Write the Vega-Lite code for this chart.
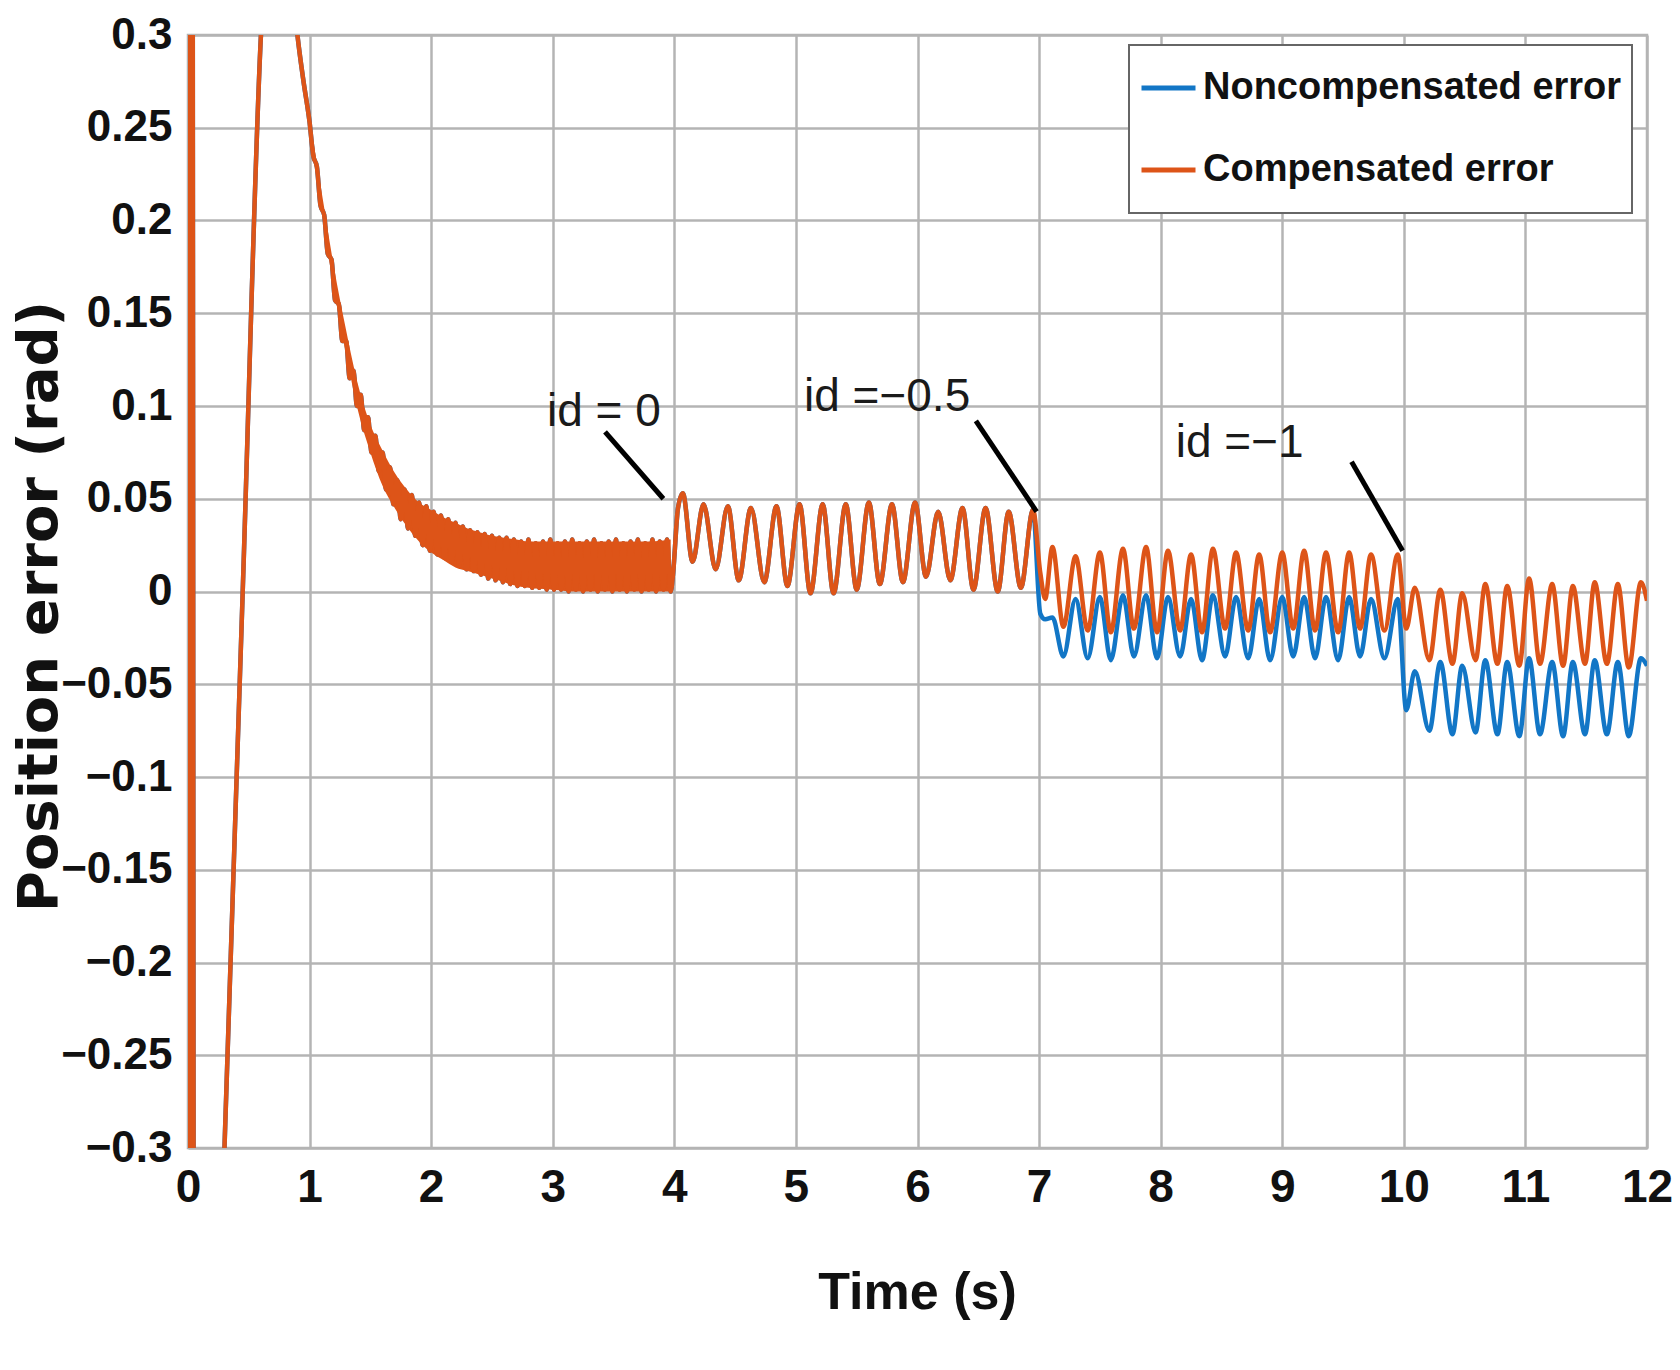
{
  "$schema": "https://vega.github.io/schema/vega-lite/v6.json",
  "autosize": {"type": "none"},
  "width": 1459,
  "height": 1113,
  "padding": {"left": 188, "top": 35, "right": 33, "bottom": 222},
  "background": "white",
  "config": {
    "view": {"stroke": "#b4b4b4", "strokeWidth": 2.5},
    "axis": {
      "grid": true, "gridColor": "#b4b4b4", "gridWidth": 2.5, "gridOpacity": 1,
      "domain": false, "ticks": false,
      "labelFont": "Liberation Sans, Arial, sans-serif",
      "labelFontSize": 46, "labelFontWeight": "bold", "labelColor": "#111111",
      "labelFlush": false, "labelOverlap": false, "labelBound": false,
      "titleColor": "#111111"
    },
    "legend": {
      "orient": "none", "legendX": 941, "legendY": 10,
      "padding": 10, "strokeColor": "#666666", "strokeWidth": 2, "fillColor": "white",
      "symbolType": "stroke", "symbolSize": 2916, "symbolStrokeWidth": 5,
      "labelFont": "Liberation Sans, Arial, sans-serif",
      "labelFontSize": 38, "labelFontWeight": "bold", "labelColor": "#111111",
      "labelLimit": 0, "rowPadding": 16, "clipHeight": 66, "labelOffset": 5, "titleLimit": 0
    }
  },
  "datasets": {
    "sig": [
      {"t":0,"n":0,"c":0},{"t":0.005,"n":0.5,"c":0.5},{"t":0.02,"n":-0.5,"c":-0.5},{"t":0.035,"n":0.5,"c":0.5},
      {"t":0.05,"n":-0.5,"c":-0.5},{"t":0.2,"n":-0.5,"c":-0.5},
      {"t":0.25,"n":-0.4,"c":-0.4},{"t":0.3,"n":-0.3,"c":-0.3},{"t":0.45,"n":0,"c":0},{"t":0.6,"n":0.3,"c":0.3},
      {"t":0.67,"n":0.37,"c":0.37},{"t":0.75,"n":0.39,"c":0.39},{"t":0.83,"n":0.35,"c":0.35},{"t":0.9,"n":0.3,"c":0.3},
      {"t":0.95,"n":0.275,"c":0.275},
      {"t":1.00,"n":0.253,"c":0.253},{"t":1.03,"n":0.235,"c":0.235},{"t":1.06,"n":0.229,"c":0.229},{"t":1.09,"n":0.208,"c":0.208},
      {"t":1.12,"n":0.203,"c":0.203},{"t":1.15,"n":0.182,"c":0.182},{"t":1.18,"n":0.179,"c":0.179},{"t":1.21,"n":0.157,"c":0.157},
      {"t":1.24,"n":0.155,"c":0.155},{"t":1.27,"n":0.135,"c":0.135},{"t":1.30,"n":0.135,"c":0.135},{"t":1.33,"n":0.115,"c":0.115},
      {"t":1.36,"n":0.119,"c":0.119},{"t":1.39,"n":0.100,"c":0.100},{"t":1.42,"n":0.106,"c":0.106},{"t":1.45,"n":0.087,"c":0.087},
      {"t":1.48,"n":0.094,"c":0.094},{"t":1.51,"n":0.075,"c":0.075},{"t":1.54,"n":0.084,"c":0.084},{"t":1.57,"n":0.065,"c":0.065},
      {"t":1.60,"n":0.075,"c":0.075},{"t":1.63,"n":0.055,"c":0.055},{"t":1.66,"n":0.067,"c":0.067},{"t":1.69,"n":0.047,"c":0.047},
      {"t":1.72,"n":0.060,"c":0.060},{"t":1.75,"n":0.039,"c":0.039},{"t":1.78,"n":0.055,"c":0.055},{"t":1.81,"n":0.034,"c":0.034},
      {"t":1.84,"n":0.052,"c":0.052},{"t":1.87,"n":0.030,"c":0.030},{"t":1.90,"n":0.048,"c":0.048},{"t":1.93,"n":0.025,"c":0.025},
      {"t":1.96,"n":0.046,"c":0.046},{"t":1.99,"n":0.022,"c":0.022},{"t":2.02,"n":0.043,"c":0.043},{"t":2.05,"n":0.020,"c":0.020},
      {"t":2.08,"n":0.041,"c":0.041},{"t":2.11,"n":0.018,"c":0.018},{"t":2.14,"n":0.039,"c":0.039},{"t":2.17,"n":0.016,"c":0.016},
      {"t":2.20,"n":0.037,"c":0.037},{"t":2.23,"n":0.014,"c":0.014},{"t":2.26,"n":0.035,"c":0.035},{"t":2.29,"n":0.012,"c":0.012},
      {"t":2.32,"n":0.033,"c":0.033},{"t":2.35,"n":0.011,"c":0.011},{"t":2.38,"n":0.032,"c":0.032},{"t":2.41,"n":0.009,"c":0.009},
      {"t":2.44,"n":0.031,"c":0.031},{"t":2.47,"n":0.007,"c":0.007},{"t":2.50,"n":0.030,"c":0.030},{"t":2.53,"n":0.006,"c":0.006},
      {"t":2.56,"n":0.029,"c":0.029},{"t":2.59,"n":0.005,"c":0.005},{"t":2.62,"n":0.029,"c":0.029},{"t":2.65,"n":0.004,"c":0.004},
      {"t":2.68,"n":0.028,"c":0.028},{"t":2.71,"n":0.003,"c":0.003},{"t":2.74,"n":0.027,"c":0.027},{"t":2.77,"n":0.003,"c":0.003},
      {"t":2.80,"n":0.028,"c":0.028},{"t":2.83,"n":0.002,"c":0.002},{"t":2.86,"n":0.026,"c":0.026},{"t":2.89,"n":0.002,"c":0.002},
      {"t":2.92,"n":0.027,"c":0.027},{"t":2.95,"n":0.001,"c":0.001},{"t":2.98,"n":0.028,"c":0.028},{"t":3.01,"n":0.001,"c":0.001},
      {"t":3.04,"n":0.026,"c":0.026},{"t":3.07,"n":0.001,"c":0.001},{"t":3.10,"n":0.027,"c":0.027},{"t":3.13,"n":0.000,"c":0.000},
      {"t":3.16,"n":0.028,"c":0.028},{"t":3.19,"n":0.001,"c":0.001},{"t":3.22,"n":0.026,"c":0.026},{"t":3.25,"n":0.000,"c":0.000},
      {"t":3.28,"n":0.027,"c":0.027},{"t":3.31,"n":0.001,"c":0.001},{"t":3.34,"n":0.028,"c":0.028},{"t":3.37,"n":0.000,"c":0.000},
      {"t":3.40,"n":0.026,"c":0.026},{"t":3.43,"n":0.001,"c":0.001},{"t":3.46,"n":0.027,"c":0.027},{"t":3.49,"n":0.000,"c":0.000},
      {"t":3.52,"n":0.028,"c":0.028},{"t":3.55,"n":0.001,"c":0.001},{"t":3.58,"n":0.026,"c":0.026},{"t":3.61,"n":0.000,"c":0.000},
      {"t":3.64,"n":0.027,"c":0.027},{"t":3.67,"n":0.001,"c":0.001},{"t":3.70,"n":0.028,"c":0.028},{"t":3.73,"n":0.000,"c":0.000},
      {"t":3.76,"n":0.026,"c":0.026},{"t":3.79,"n":0.001,"c":0.001},{"t":3.82,"n":0.028,"c":0.028},{"t":3.85,"n":0.000,"c":0.000},
      {"t":3.88,"n":0.027,"c":0.027},{"t":3.91,"n":0.001,"c":0.001},{"t":3.94,"n":0.028,"c":0.028},{"t":3.97,"n":0.000,"c":0.000},
      {"t":3.99,"n":0.010,"c":0.010},{"t":4.03,"n":0.045,"c":0.045},
      {"t":4.07,"n":0.053,"c":0.053},{"t":4.15,"n":0.016,"c":0.016},{"t":4.24,"n":0.047,"c":0.047},{"t":4.34,"n":0.012,"c":0.012},
      {"t":4.44,"n":0.046,"c":0.046},{"t":4.53,"n":0.006,"c":0.006},{"t":4.63,"n":0.045,"c":0.045},{"t":4.74,"n":0.005,"c":0.005},
      {"t":4.84,"n":0.046,"c":0.046},{"t":4.93,"n":0.003,"c":0.003},{"t":5.03,"n":0.047,"c":0.047},{"t":5.12,"n":-0.001,"c":-0.001},
      {"t":5.22,"n":0.047,"c":0.047},{"t":5.31,"n":-0.001,"c":-0.001},{"t":5.41,"n":0.047,"c":0.047},{"t":5.50,"n":0.001,"c":0.001},
      {"t":5.60,"n":0.048,"c":0.048},{"t":5.69,"n":0.004,"c":0.004},{"t":5.79,"n":0.047,"c":0.047},{"t":5.88,"n":0.005,"c":0.005},
      {"t":5.98,"n":0.048,"c":0.048},{"t":6.07,"n":0.008,"c":0.008},{"t":6.17,"n":0.043,"c":0.043},{"t":6.27,"n":0.006,"c":0.006},
      {"t":6.37,"n":0.045,"c":0.045},{"t":6.46,"n":0.001,"c":0.001},{"t":6.56,"n":0.045,"c":0.045},{"t":6.66,"n":0.000,"c":0.000},
      {"t":6.75,"n":0.043,"c":0.043},{"t":6.85,"n":0.002,"c":0.002},{"t":6.95,"n":0.044,"c":0.044},
      {"t":7.01,"n":-0.012,"c":0.010},{"t":7.05,"n":-0.015,"c":-0.004},{"t":7.11,"n":-0.014,"c":0.024},
      {"t":7.20,"n":-0.035,"c":-0.019},{"t":7.30,"n":-0.004,"c":0.019},{"t":7.40,"n":-0.036,"c":-0.021},{"t":7.50,"n":-0.003,"c":0.021},
      {"t":7.59,"n":-0.037,"c":-0.022},{"t":7.69,"n":-0.002,"c":0.023},{"t":7.78,"n":-0.035,"c":-0.020},{"t":7.88,"n":-0.002,"c":0.024},
      {"t":7.97,"n":-0.036,"c":-0.022},{"t":8.06,"n":-0.003,"c":0.022},{"t":8.16,"n":-0.035,"c":-0.021},{"t":8.25,"n":-0.004,"c":0.020},
      {"t":8.34,"n":-0.037,"c":-0.022},{"t":8.43,"n":-0.002,"c":0.023},{"t":8.53,"n":-0.035,"c":-0.020},{"t":8.62,"n":-0.003,"c":0.021},
      {"t":8.72,"n":-0.036,"c":-0.021},{"t":8.81,"n":-0.004,"c":0.020},{"t":8.90,"n":-0.037,"c":-0.022},{"t":9.00,"n":-0.003,"c":0.021},
      {"t":9.09,"n":-0.035,"c":-0.020},{"t":9.18,"n":-0.003,"c":0.022},{"t":9.27,"n":-0.036,"c":-0.021},{"t":9.36,"n":-0.003,"c":0.021},
      {"t":9.46,"n":-0.037,"c":-0.022},{"t":9.55,"n":-0.003,"c":0.021},{"t":9.64,"n":-0.035,"c":-0.020},{"t":9.73,"n":-0.004,"c":0.020},
      {"t":9.84,"n":-0.036,"c":-0.021},{"t":9.95,"n":-0.004,"c":0.020},
      {"t":10.02,"n":-0.064,"c":-0.020},{"t":10.09,"n":-0.043,"c":0.002},{"t":10.21,"n":-0.075,"c":-0.037},{"t":10.30,"n":-0.038,"c":0.001},
      {"t":10.40,"n":-0.077,"c":-0.039},{"t":10.48,"n":-0.040,"c":-0.001},{"t":10.59,"n":-0.076,"c":-0.037},{"t":10.67,"n":-0.037,"c":0.004},
      {"t":10.77,"n":-0.077,"c":-0.039},{"t":10.85,"n":-0.038,"c":0.003},{"t":10.95,"n":-0.078,"c":-0.040},{"t":11.03,"n":-0.036,"c":0.007},
      {"t":11.12,"n":-0.077,"c":-0.039},{"t":11.22,"n":-0.038,"c":0.004},{"t":11.31,"n":-0.078,"c":-0.040},{"t":11.39,"n":-0.038,"c":0.003},
      {"t":11.49,"n":-0.077,"c":-0.039},{"t":11.57,"n":-0.037,"c":0.005},{"t":11.67,"n":-0.077,"c":-0.039},{"t":11.76,"n":-0.038,"c":0.004},
      {"t":11.85,"n":-0.078,"c":-0.041},{"t":11.95,"n":-0.036,"c":0.005},{"t":12.0,"n":-0.040,"c":-0.005}
    ],
    "band": [
      {"t":1.00,"lo":0.247,"hi":0.255},{"t":1.10,"lo":0.205,"hi":0.215},{"t":1.20,"lo":0.163,"hi":0.175},
      {"t":1.30,"lo":0.128,"hi":0.141},{"t":1.40,"lo":0.097,"hi":0.111},{"t":1.50,"lo":0.075,"hi":0.090},
      {"t":1.60,"lo":0.057,"hi":0.076},{"t":1.70,"lo":0.045,"hi":0.064},{"t":1.80,"lo":0.035,"hi":0.055},
      {"t":1.90,"lo":0.027,"hi":0.048},{"t":2.00,"lo":0.021,"hi":0.044},{"t":2.10,"lo":0.017,"hi":0.040},
      {"t":2.20,"lo":0.013,"hi":0.037},{"t":2.30,"lo":0.011,"hi":0.034},{"t":2.40,"lo":0.009,"hi":0.032},
      {"t":2.50,"lo":0.007,"hi":0.030},{"t":2.60,"lo":0.005,"hi":0.029},{"t":2.70,"lo":0.003,"hi":0.028},
      {"t":2.80,"lo":0.002,"hi":0.027},{"t":3.00,"lo":0.001,"hi":0.027},{"t":3.20,"lo":0.000,"hi":0.027},
      {"t":3.40,"lo":0.000,"hi":0.027},{"t":3.60,"lo":0.000,"hi":0.027},{"t":3.80,"lo":0.000,"hi":0.027},
      {"t":3.97,"lo":0.000,"hi":0.028}
    ],
    "labels": [
      {"t": 3.42, "y": 0.097, "label": "id = 0"},
      {"t": 5.75, "y": 0.105, "label": "id =−0.5"},
      {"t": 8.65, "y": 0.080, "label": "id =−1"}
    ],
    "arrows": [
      {"t": 3.43, "y": 0.086, "t2": 3.91, "y2": 0.050},
      {"t": 6.48, "y": 0.092, "t2": 6.98, "y2": 0.043},
      {"t": 9.57, "y": 0.070, "t2": 9.99, "y2": 0.022}
    ]
  },
  "layer": [
    {
      "data": {"name": "sig"},
      "mark": {"type": "line", "strokeWidth": 4.5, "interpolate": "monotone", "clip": true},
      "encoding": {
        "x": {"field": "t", "type": "quantitative",
              "scale": {"domain": [0, 12], "nice": false, "zero": false},
              "axis": {"title": "Time (s)", "values": [0,1,2,3,4,5,6,7,8,9,10,11,12], "format": "d",
                       "labelPadding": 17,
                       "titleFont": "Liberation Sans, Arial, sans-serif",
                       "titleFontSize": 52, "titleFontWeight": "bold",
                       "titleX": 729, "titleY": 160, "titleAlign": "center", "titleBaseline": "alphabetic"}},
        "y": {"field": "n", "type": "quantitative",
              "scale": {"domain": [-0.3, 0.3], "nice": false, "zero": false},
              "axis": {"title": "Position error (rad)",
                       "values": [-0.3,-0.25,-0.2,-0.15,-0.1,-0.05,0,0.05,0.1,0.15,0.2,0.25,0.3],
                       "format": ".2~f", "labelPadding": 16, "labelFontSize": 44,
                       "titleFont": "DejaVu Sans", "titleFontSize": 56, "titleFontWeight": "bold",
                       "titleAngle": 270, "titleX": -149, "titleY": 571,
                       "titleAlign": "center", "titleBaseline": "middle"}},
        "color": {"datum": "Noncompensated error", "type": "nominal",
                  "scale": {"domain": ["Noncompensated error", "Compensated error"], "range": ["#1276C6", "#DD5418"]},
                  "legend": {"title": null}}
      }
    },
    {
      "data": {"name": "band"},
      "mark": {"type": "area", "color": "#DD5418", "opacity": 1, "interpolate": "monotone", "clip": true},
      "encoding": {
        "x": {"field": "t", "type": "quantitative", "scale": {"domain": [0, 12], "nice": false, "zero": false}},
        "y": {"field": "lo", "type": "quantitative", "scale": {"domain": [-0.3, 0.3], "nice": false, "zero": false}},
        "y2": {"field": "hi"}
      }
    },
    {
      "data": {"name": "sig"},
      "mark": {"type": "line", "strokeWidth": 4.5, "interpolate": "monotone", "clip": true},
      "encoding": {
        "x": {"field": "t", "type": "quantitative", "scale": {"domain": [0, 12], "nice": false, "zero": false}},
        "y": {"field": "c", "type": "quantitative", "scale": {"domain": [-0.3, 0.3], "nice": false, "zero": false}},
        "color": {"datum": "Compensated error", "type": "nominal"}
      }
    },
    {
      "data": {"name": "arrows"},
      "mark": {"type": "rule", "color": "black", "strokeWidth": 5, "strokeCap": "butt"},
      "encoding": {
        "x": {"field": "t", "type": "quantitative", "scale": {"domain": [0, 12], "nice": false, "zero": false}},
        "y": {"field": "y", "type": "quantitative", "scale": {"domain": [-0.3, 0.3], "nice": false, "zero": false}},
        "x2": {"field": "t2"},
        "y2": {"field": "y2"}
      }
    },
    {
      "data": {"name": "labels"},
      "mark": {"type": "text", "font": "Liberation Sans, Arial, sans-serif",
               "fontSize": 46, "color": "#1a1a1a", "align": "center", "baseline": "middle"},
      "encoding": {
        "x": {"field": "t", "type": "quantitative", "scale": {"domain": [0, 12], "nice": false, "zero": false}},
        "y": {"field": "y", "type": "quantitative", "scale": {"domain": [-0.3, 0.3], "nice": false, "zero": false}},
        "text": {"field": "label"}
      }
    }
  ]
}
